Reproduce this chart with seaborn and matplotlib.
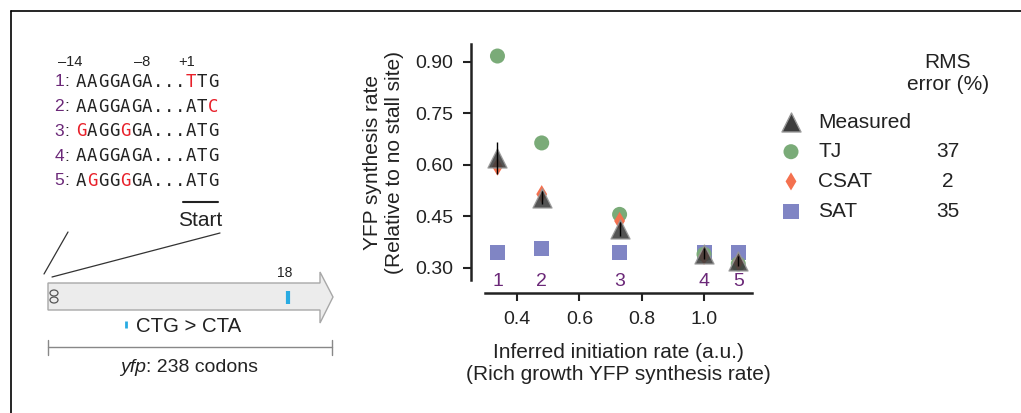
import numpy as np
import pandas as pd
import matplotlib
matplotlib.use("Agg")
import matplotlib.pyplot as plt
import seaborn as sns
from matplotlib.patches import Polygon, Ellipse

# donnees
rates = [0.337, 0.479, 0.729, 1.0, 1.11]
measured = [0.620, 0.505, 0.413, 0.342, 0.320]
measured_err = [0.047, 0.02, 0.02, 0.015, 0.015]
tj = [0.917, 0.664, 0.456, 0.340, 0.312]
csat = [0.595, 0.515, 0.437, 0.335, 0.318]
sat = [0.344, 0.356, 0.345, 0.344, 0.344]
point_labels = ["1", "2", "3", "4", "5"]

yticks = [0.30, 0.45, 0.60, 0.75, 0.90]
xticks = [0.4, 0.6, 0.8, 1.0]

legend_labels = ["Measured", "TJ", "CSAT", "SAT"]
rms_errors = ["", "37", "2", "35"]

seqs = ["AAGGAGA...TTG", "AAGGAGA...ATC", "GAGGGGA...ATG",
        "AAGGAGA...ATG", "AGGGGGA...ATG"]
red_pos = [[10], [12], [0, 4], [], [1, 4]]

purple = "#6b2878"
red = "#e8202a"
blue = "#29abe2"
c_tj = "#7aab78"
c_csat = "#f4714f"
c_sat = "#8085c4"
c_meas = "#3c3c3c"

sns.set_style("ticks")
plt.rcParams["font.family"] = ["Liberation Sans", "DejaVu Sans"]

W, H = 1021, 413
fig = plt.figure(figsize=(W / 100, H / 100), dpi=100)

# fond en pixels pour le schema
bg = fig.add_axes([0, 0, 1, 1], zorder=0)
bg.set_xlim(0, W)
bg.set_ylim(H, 0)
bg.axis("off")

# cadre
bg.plot([11, 11], [H, 11], color="black", lw=1.2)
bg.plot([11, W], [11, 11], color="black", lw=1.2)

# positions
for lab, xc in [("\u201314", 70), ("\u20138", 142), ("+1", 187)]:
    bg.text(xc, 62, lab, fontsize=10.5, ha="center", va="center", color="#222")

# sequences
for i, (seq, reds) in enumerate(zip(seqs, red_pos)):
    y = 82 + i * 24.7
    bg.text(59, y, point_labels[i], color=purple, fontsize=12.5, ha="center", va="center")
    bg.text(67, y, ":", color="#222", fontsize=12.5, ha="center", va="center")
    for j, ch in enumerate(seq):
        bg.text(81 + 11 * j, y, ch, family="DejaVu Sans Mono", fontsize=12.5,
                ha="center", va="center", color=red if j in reds else "#222")

bg.plot([183, 218], [202, 202], color="#222", lw=1.5)
bg.text(200, 220, "Start", fontsize=15, ha="center", va="center", color="#222")

# lignes de zoom
bg.plot([68, 44], [232, 274], color="#333", lw=0.9)
bg.plot([220, 52], [233, 277], color="#333", lw=0.9)

# gene
bg.add_patch(Polygon([(48, 283), (320, 283), (320, 272), (333, 297), (320, 323),
                      (320, 310), (48, 310)], closed=True, facecolor="#ececec",
                     edgecolor="#a8a8a8", lw=1))
bg.add_patch(Ellipse((54, 293), 8, 6, facecolor="none", edgecolor="#555", lw=0.9))
bg.add_patch(Ellipse((54, 300), 8, 6, facecolor="none", edgecolor="#555", lw=0.9))
bg.plot([288, 288], [291, 304], color=blue, lw=3, solid_capstyle="butt")
bg.text(285, 273, "18", fontsize=10, ha="center", va="center", color="#222")
bg.plot([126, 126], [321, 328], color=blue, lw=2, solid_capstyle="butt")
bg.text(136, 327, "CTG > CTA", fontsize=14.7, ha="left", va="center", color="#222")

# echelle
bg.plot([48, 332], [347, 347], color="#888", lw=1)
bg.plot([48, 48], [340, 355], color="#888", lw=1)
bg.plot([332, 332], [340, 355], color="#888", lw=1)
bg.text(146, 367, "yfp", fontsize=14, style="italic", ha="right", va="center", color="#222")
bg.text(146, 367, ": 238 codons", fontsize=14, ha="left", va="center", color="#222")

# graphique principal
ax = fig.add_axes([485 / W, 1 - 280 / H, 267 / W, 236 / H], zorder=1)
ax.patch.set_alpha(0)
df = pd.DataFrame({"rate": rates, "Measured": measured, "TJ": tj,
                   "CSAT": csat, "SAT": sat})

sns.scatterplot(data=df, x="rate", y="SAT", marker="s", s=117, color=c_sat,
                edgecolor="none", ax=ax, zorder=2)
sns.scatterplot(data=df, x="rate", y="TJ", marker="o", s=117, color=c_tj,
                edgecolor="none", ax=ax, zorder=3)
sns.scatterplot(data=df, x="rate", y="CSAT", marker="d", s=85, color=c_csat,
                edgecolor="none", ax=ax, zorder=4)
sns.scatterplot(data=df, x="rate", y="Measured", marker="^", s=187, color=c_meas,
                edgecolor="#999999", linewidth=1, alpha=0.88, ax=ax, zorder=5)
ax.errorbar(rates, measured, yerr=measured_err, fmt="none", ecolor="black",
            elinewidth=1, capsize=0, zorder=6)

for xv, lab in zip(rates, point_labels):
    ax.text(xv, 0.262, lab, color=purple, fontsize=14, ha="center", va="center",
            clip_on=False)

ax.set_xlim(0.297, 1.154)
ax.set_ylim(0.265, 0.952)
ax.set_yticks(yticks)
ax.set_yticklabels([f"{v:.2f}" for v in yticks])
ax.set_xticks(xticks)
ax.set_xticklabels([f"{v:.1f}" for v in xticks])
ax.tick_params(labelsize=14, colors="#222", length=6, width=1.5, pad=7)
ax.set_xlabel("Inferred initiation rate (a.u.)\n(Rich growth YFP synthesis rate)",
              fontsize=15, color="#222", labelpad=11)
ax.set_ylabel("YFP synthesis rate\n(Relative to no stall site)", fontsize=15,
              color="#222", labelpad=8)
sns.despine(ax=ax)
ax.spines["left"].set_position(("outward", 10))
ax.spines["bottom"].set_position(("outward", 9))
for s in ["left", "bottom"]:
    ax.spines[s].set_linewidth(1.8)
    ax.spines[s].set_color("#222")

# legende
bg.text(948, 74, "RMS\nerror (%)", fontsize=15, ha="center", va="center",
        color="#222", linespacing=1.2)
styles = [("^", 187, c_meas, "#999999"), ("o", 117, c_tj, "none"),
          ("d", 85, c_csat, "none"), ("s", 117, c_sat, "none")]
for k, (lab, rms, st) in enumerate(zip(legend_labels, rms_errors, styles)):
    y = 122 + k * 29.7
    bg.scatter([791], [y], marker=st[0], s=st[1], color=st[2], edgecolor=st[3],
               linewidth=1)
    bg.text(818, y, lab, fontsize=15, ha="left", va="center", color="#222")
    bg.text(948, y, rms, fontsize=15, ha="center", va="center", color="#222")

fig.savefig("out.png", dpi=100)
